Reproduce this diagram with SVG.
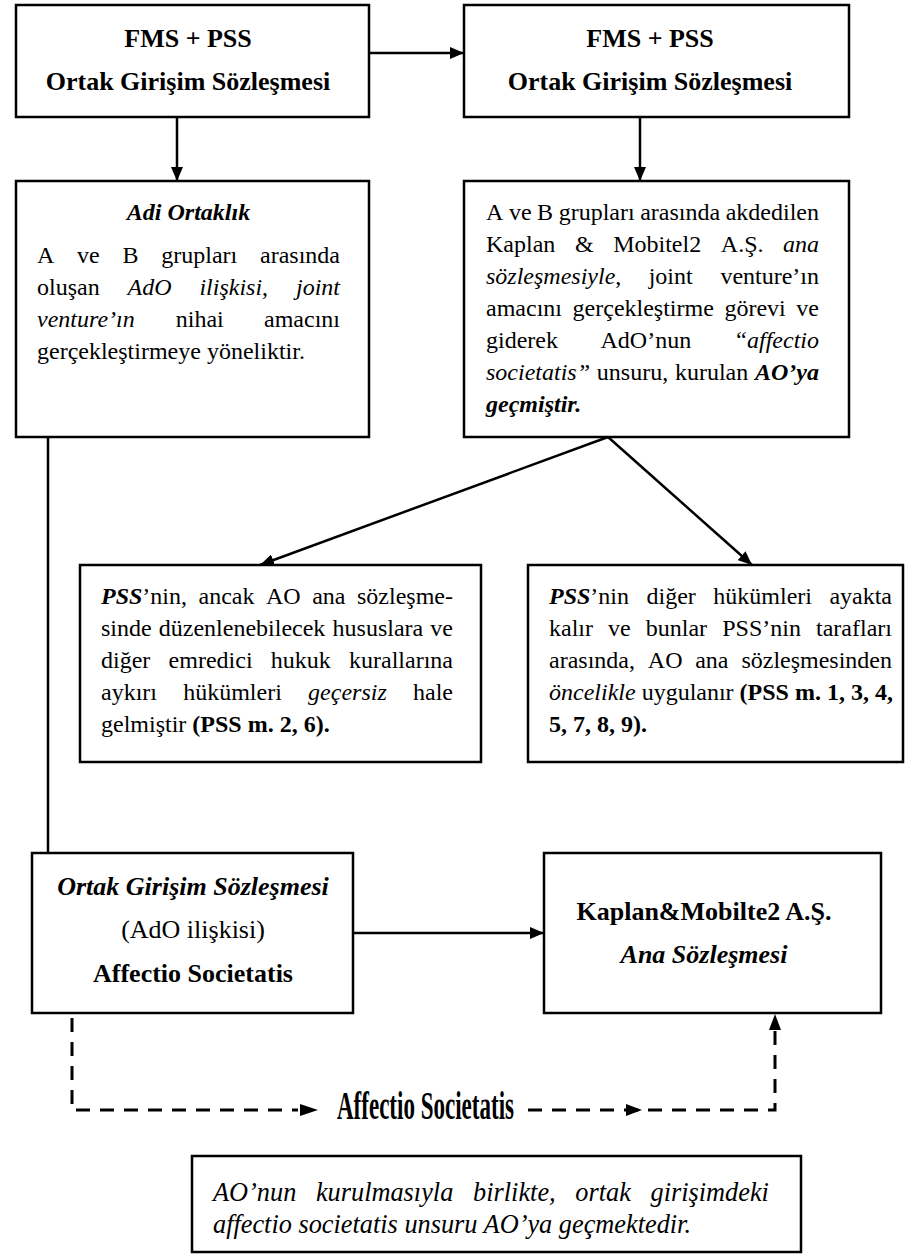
<svg xmlns="http://www.w3.org/2000/svg" width="905" height="1258" viewBox="0 0 905 1258">
<style>
.box{fill:#fff;stroke:#000;stroke-width:2.5}
.t{font-family:"Liberation Serif","Times New Roman",serif;font-size:24px;fill:#000}
.h{font-size:26px;text-anchor:middle}
.b{font-weight:bold}
.i{font-style:italic}
.ln{fill:none;stroke:#000;stroke-width:2.5}
.dl{fill:none;stroke:#000;stroke-width:3;stroke-dasharray:14 10}
.ah{fill:#000}
</style>
<defs>
<marker id="arr" viewBox="0 0 14 12" refX="14" refY="6" markerWidth="14" markerHeight="12" orient="auto" markerUnits="userSpaceOnUse"><path d="M0,0 L14,6 L0,12 z" fill="#000"/></marker>
</defs>

<g id="connectors">
<path class="ln" d="M369,53 H464" marker-end="url(#arr)"/>
<path class="ln" d="M177,117 V181" marker-end="url(#arr)"/>
<path class="ln" d="M640,117 V181" marker-end="url(#arr)"/>
<path class="ln" d="M608,437 L260,565" marker-end="url(#arr)"/>
<path class="ln" d="M608,437 L752,565" marker-end="url(#arr)"/>
<path class="ln" d="M48,437 V853"/>
<path class="ln" d="M353,933 H544" marker-end="url(#arr)"/>
<path class="dl" d="M72,1018 V1110 H298"/>
<polygon class="ah" points="300,1104 318,1110 300,1116"/>
<path class="dl" d="M528,1110 H775 V1030"/>
<polygon class="ah" points="626,1104 642,1110 626,1116"/>
<polygon class="ah" points="769,1030 775,1014 781,1030"/>
<text class="t b" x="337" y="1119" style="font-size:39px" textLength="177" lengthAdjust="spacingAndGlyphs">Affectio Societatis</text>
</g>

<g id="n1">
<rect class="box" x="16" y="5" width="353" height="112"/>
<text class="t h b" x="188" y="47">FMS + PSS</text>
<text class="t h b" x="188" y="90">Ortak Girişim Sözleşmesi</text>
</g>

<g id="n2">
<rect class="box" x="464" y="5" width="385" height="112"/>
<text class="t h b" x="650" y="47">FMS + PSS</text>
<text class="t h b" x="650" y="90">Ortak Girişim Sözleşmesi</text>
</g>

<g id="n3">
<rect class="box" x="16" y="181" width="353" height="256"/>
<text class="t b i" x="188.5" y="220" text-anchor="middle">Adi Ortaklık</text>
<text class="t" y="263"><tspan x="37">A</tspan><tspan x="77.1">ve</tspan><tspan x="122.5">B</tspan><tspan x="161.3">grupları</tspan><tspan x="260">arasında</tspan></text>
<text class="t" y="295"><tspan x="37">oluşan</tspan><tspan x="127.5" class="i">AdO</tspan><tspan x="199.4" class="i">ilişkisi</tspan><tspan>,</tspan><tspan x="296" class="i">joint</tspan></text>
<text class="t" y="327"><tspan x="37" class="i">venture’ın</tspan><tspan x="175.8">nihai</tspan><tspan x="264">amacını</tspan></text>
<text class="t" x="37" y="359">gerçekleştirmeye yöneliktir.</text>
</g>

<g id="n4">
<rect class="box" x="464" y="181" width="385" height="256"/>
<text class="t" y="220"><tspan x="486">A</tspan><tspan x="508.9">ve</tspan><tspan x="537.1">B</tspan><tspan x="558.7">grupları</tspan><tspan x="640.2">arasında</tspan><tspan x="725.7">akdedilen</tspan></text>
<text class="t" y="252"><tspan x="486">Kaplan</tspan><tspan x="574.9">&amp;</tspan><tspan x="613.2">Mobitel2</tspan><tspan x="720.8">A.Ş.</tspan><tspan x="783" class="i">ana</tspan></text>
<text class="t" y="284"><tspan x="486" class="i">sözleşmesiyle</tspan><tspan>,</tspan><tspan x="648.7">joint</tspan><tspan x="720.4">venture’ın</tspan></text>
<text class="t" y="316"><tspan x="486">amacını</tspan><tspan x="572.6">gerçekleştirme</tspan><tspan x="724.4">görevi</tspan><tspan x="796.3">ve</tspan></text>
<text class="t" y="348"><tspan x="486">giderek</tspan><tspan x="600.5">AdO’nun</tspan><tspan x="733.7" class="i">“affectio</tspan></text>
<text class="t" y="380"><tspan x="486" class="i">societatis”</tspan><tspan x="596.8">unsuru,</tspan><tspan x="674.9">kurulan</tspan><tspan x="755" class="b i">AO’ya</tspan></text>
<text class="t b i" x="486" y="412">geçmiştir.</text>
</g>

<g id="n5">
<rect class="box" x="80" y="565" width="401" height="197"/>
<text class="t" y="604"><tspan x="101" class="b i">PSS</tspan><tspan>’nin,</tspan><tspan x="198.5">ancak</tspan><tspan x="266">AO</tspan><tspan x="312.2">ana</tspan><tspan x="357">sözleşme-</tspan></text>
<text class="t" y="636"><tspan x="101">sinde</tspan><tspan x="158.8">düzenlenebilecek</tspan><tspan x="332.6">hususlara</tspan><tspan x="430.3">ve</tspan></text>
<text class="t" y="668"><tspan x="101">diğer</tspan><tspan x="168.6">emredici</tspan><tspan x="270.8">hukuk</tspan><tspan x="349">kurallarına</tspan></text>
<text class="t" y="700"><tspan x="101">aykırı</tspan><tspan x="183.2">hükümleri</tspan><tspan x="308.1" class="i">geçersiz</tspan><tspan x="413">hale</tspan></text>
<text class="t" x="101" y="732">gelmiştir <tspan class="b">(PSS m. 2, 6).</tspan></text>
</g>

<g id="n6">
<rect class="box" x="528" y="565" width="375" height="197"/>
<text class="t" y="604"><tspan x="549" class="b i">PSS</tspan><tspan>’nin</tspan><tspan x="646.5">diğer</tspan><tspan x="713.3">hükümleri</tspan><tspan x="829.4">ayakta</tspan></text>
<text class="t" y="636"><tspan x="549">kalır</tspan><tspan x="608.1">ve</tspan><tspan x="645.8">bunlar</tspan><tspan x="722.2">PSS’nin</tspan><tspan x="816">tarafları</tspan></text>
<text class="t" y="668"><tspan x="549">arasında,</tspan><tspan x="647.8">AO</tspan><tspan x="695.2">ana</tspan><tspan x="741.4">sözleşmesinden</tspan></text>
<text class="t" x="549" y="700"><tspan class="i">öncelikle</tspan> uygulanır <tspan class="b">(PSS m. 1, 3, 4,</tspan></text>
<text class="t b" x="549" y="732">5, 7, 8, 9).</text>
</g>

<g id="n7">
<rect class="box" x="32" y="853" width="321" height="160"/>
<text class="t h b i" x="193" y="895">Ortak Girişim Sözleşmesi</text>
<text class="t h" x="193" y="938">(AdO ilişkisi)</text>
<text class="t h b" x="193" y="982">Affectio Societatis</text>
</g>

<g id="n8">
<rect class="box" x="544" y="853" width="337" height="160"/>
<text class="t h b" x="704" y="920">Kaplan&amp;Mobilte2 A.Ş.</text>
<text class="t h b i" x="704" y="963">Ana Sözleşmesi</text>
</g>

<g id="n9">
<rect class="box" x="192" y="1156" width="609" height="96"/>
<g transform="translate(213 0) scale(0.94 1)">
<text class="t i" y="1201" style="font-size:28px"><tspan x="0">AO’nun</tspan><tspan x="109.5">kurulmasıyla</tspan><tspan x="276.7">birlikte,</tspan><tspan x="385.5">ortak</tspan><tspan x="465.5">girişimdeki</tspan></text>
<text class="t i" x="0" y="1233" style="font-size:28px">affectio societatis unsuru AO’ya geçmektedir.</text>
</g>
</g>
</svg>
